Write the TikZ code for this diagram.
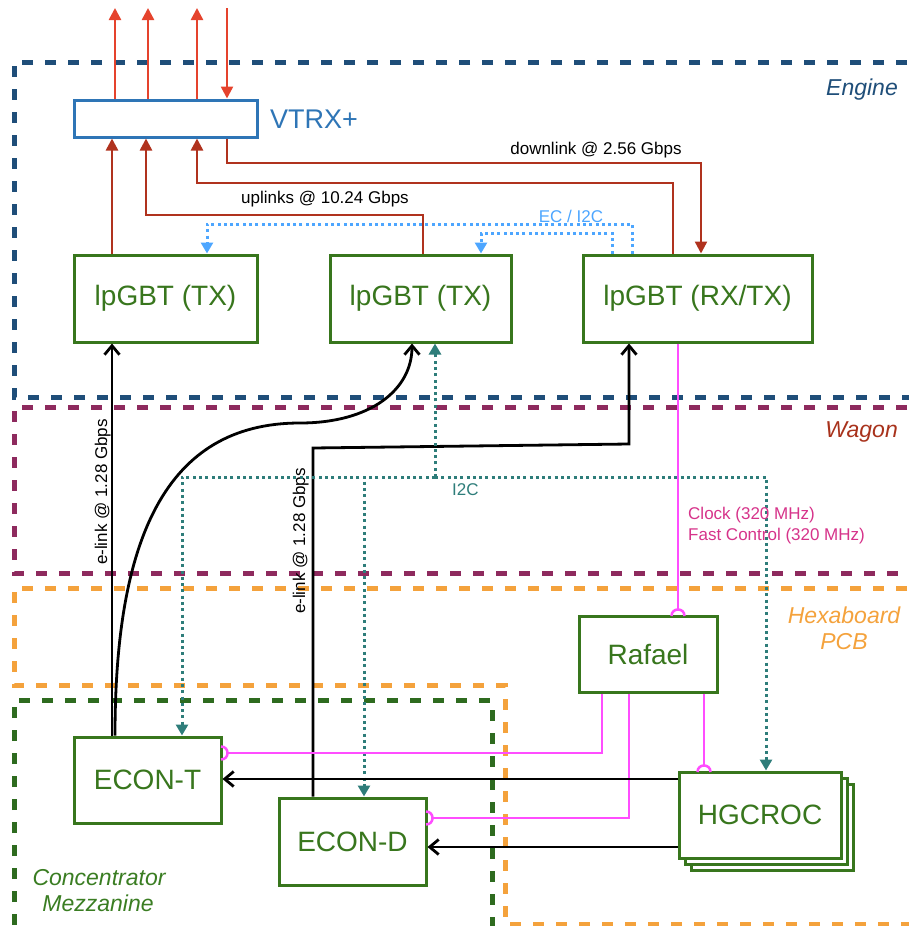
\documentclass[tikz,border=0pt]{standalone}
\usepackage{fontspec}
\setmainfont{Liberation Sans}
\usetikzlibrary{arrows.meta}
\definecolor{engblue}{HTML}{1F4E79}
\definecolor{wagmar}{HTML}{8E2A5E}
\definecolor{wagred}{HTML}{A8321C}
\definecolor{hexor}{HTML}{F4A23C}
\definecolor{concg}{HTML}{2E6B1F}
\definecolor{conctxt}{HTML}{3A7D22}
\definecolor{boxg}{HTML}{38761D}
\definecolor{vblue}{HTML}{2E75B6}
\definecolor{redA}{HTML}{E5432D}
\definecolor{redB}{HTML}{B0321E}
\definecolor{ecblue}{HTML}{4DA6FF}
\definecolor{i2cteal}{HTML}{2E7D7A}
\definecolor{mag}{HTML}{FF4DFF}
\definecolor{magtxt}{HTML}{D6338A}
\begin{document}
\begin{tikzpicture}[x=1pt,y=-1pt,
  region/.style={line width=5pt, dash pattern=on 11pt off 12pt},
  box/.style={draw=boxg, fill=white, line width=3pt, inner sep=0pt, text=boxg, font=\fontsize{28}{32}\selectfont},
  lbl/.style={inner sep=0pt, font=\fontsize{17}{20}\selectfont},
  rlbl/.style={inner sep=0pt, font=\fontsize{23}{26}\selectfont\itshape},
  upred/.style={draw=redA, line width=2.5pt, -{Triangle[width=12pt,length=12pt]}},
  linkred/.style={draw=redB, line width=2.5pt, -{Triangle[width=12pt,length=12pt]}},
  elink/.style={draw=black, line width=2.8pt, -{Straight Barb[length=9pt,width=15pt]}},
  ecdot/.style={draw=ecblue, line width=3pt, dash pattern=on 3pt off 3.3pt, -{Triangle[width=12pt,length=11pt]}},
  i2cdot/.style={draw=i2cteal, line width=3pt, dash pattern=on 3pt off 3.3pt, -{Triangle[width=12pt,length=11pt]}},
  magl/.style={draw=mag, line width=2.5pt},
]
\useasboundingbox (0,0) rectangle (909,926);
\clip (0,0) rectangle (909,926);

% columns and rows
\foreach \v in {112,115,146,148,182,197,207,227,313,364,412,423,435,481,602,612,629,632,673,678,701,704,766}
  \coordinate (x\v) at (\v,0);
\coordinate (r779) at (0,779);
\coordinate (r847) at (0,847);

% regions
\draw[region, engblue] (930,62) -- (14,62) -- (14,397) -- (930,397);
\draw[region, wagmar] (930,407) -- (14,407) -- (14,573) -- (930,573);
\draw[region, hexor] (930,588) -- (14,588) -- (14,685) -- (505,685) -- (505,924) -- (930,924);
\draw[region, concg] (14,925) -- (14,700) -- (492,700) -- (492,930);

% region labels
\node[rlbl, text=engblue, anchor=base east] (englbl) at (898,95) {Engine};
\node[rlbl, text=wagred, anchor=base east] (waglbl) at (898,437) {Wagon};
\node[rlbl, text=hexor, anchor=base] (hexlbl1) at (844,623) {Hexaboard};
\node[rlbl, text=hexor, anchor=base] (hexlbl2) at (844,649) {PCB};
\node[rlbl, text=conctxt, anchor=base] (conclbl1) at (99,885) {Concentrator};
\node[rlbl, text=conctxt, anchor=base] (conclbl2) at (98,911) {Mezzanine};

% boxes
\node[box, draw=vblue, minimum width=183pt, minimum height=37pt] (vtrx) at (165.5,118.5) {};
\node[inner sep=0pt, text=vblue, font=\fontsize{27}{30}\selectfont, anchor=base west] (vtrxlbl) at (270,128) {VTRX+};
\node[box, minimum width=183pt, minimum height=87pt] (lp1) at (165.5,298.5) {lpGBT (TX)};
\node[box, minimum width=181pt, minimum height=87pt] (lp2) at (420.5,298.5) {lpGBT (TX)};
\node[box, minimum width=229pt, minimum height=87pt] (lp3) at (697.5,298.5) {lpGBT (RX/TX)};
\node[box, minimum width=138pt, minimum height=76pt] (rafael) at (648,654) {Rafael};
\node[box, minimum width=147pt, minimum height=86pt] (econt) at (147.5,780) {ECON-T};
\node[box, minimum width=147pt, minimum height=87pt] (econd) at (352.5,841.5) {ECON-D};
\node[box, minimum width=162pt, minimum height=86pt] (hg3) at (772,827) {};
\node[box, minimum width=162pt, minimum height=86pt] (hg2) at (766,821) {};
\node[box, minimum width=162pt, minimum height=86pt] (hgcroc) at (760,815) {HGCROC};

% free ends above VTRX+
\coordinate (top1) at (115,8);
\coordinate (top2) at (148,8);
\coordinate (top3) at (197,8);
\coordinate (top4) at (227,8);
\draw[upred] (x115 |- vtrx.north) -- (top1);
\draw[upred] (x148 |- vtrx.north) -- (top2);
\draw[upred] (x197 |- vtrx.north) -- (top3);
\draw[upred] (top4) -- (x227 |- vtrx.north);

% uplinks / downlink
\draw[linkred] (x112 |- lp1.north) -- (x112 |- vtrx.south);
\draw[linkred] (x423 |- lp2.north) -- (423,215) -- (146,215) -- (x146 |- vtrx.south);
\draw[linkred] (x673 |- lp3.north) -- (673,183) -- (197,183) -- (x197 |- vtrx.south);
\draw[linkred] (x227 |- vtrx.south) -- (227,163) -- (701,163) -- (x701 |- lp3.north);
\node[lbl, anchor=base] (uplbl) at (325,203) {uplinks @ 10.24 Gbps};
\node[lbl, anchor=base] (dnlbl) at (596,154) {downlink @ 2.56 Gbps};

% EC / I2C
\draw[ecdot] (x632 |- lp3.north) -- (632,224) -- (207,224) -- (x207 |- lp1.north);
\draw[ecdot] (x612 |- lp3.north) -- (612,233) -- (481,233) -- (x481 |- lp2.north);
\node[lbl, text=ecblue, anchor=base] (eclbl) at (571,222) {EC / I2C};

% e-links
\draw[elink] (x112 |- econt.north) -- (x112 |- lp1.south);
\draw[elink] (x115 |- econt.north) .. controls (115,540) and (165,423) .. (300,423)
  .. controls (370,423) and (412,390) .. (x412 |- lp2.south);
\draw[elink] (x313 |- econd.north) -- (313,448) -- (629,444) -- (x629 |- lp3.south);
\node[lbl, rotate=90, anchor=base] (el1lbl) at (107,492) {e-link @ 1.28 Gbps};
\node[lbl, rotate=90, anchor=base] (el2lbl) at (305,541) {e-link @ 1.28 Gbps};

% I2C tree
\coordinate (i2cJ) at (435,477);
\draw[i2cdot] (i2cJ) -- (x435 |- lp2.south);
\draw[i2cdot] (i2cJ) -- (182,477) -- (x182 |- econt.north);
\draw[i2cdot] (i2cJ) -- (364,477) -- (x364 |- econd.north);
\draw[i2cdot] (i2cJ) -- (766,477) -- (x766 |- hgcroc.north);
\node[lbl, text=i2cteal, anchor=base west] (i2clbl) at (452,495) {I2C};

% clock / fast control
\draw[magl] (x678 |- lp3.south) -- (678,609.5);
\draw[magl] (671.5,616) .. controls (671.5,607.3) and (684.5,607.3) .. (684.5,616);
\node[lbl, text=magtxt, anchor=base west] (clklbl) at (688,519) {Clock (320 MHz)};
\node[lbl, text=magtxt, anchor=base west] (fclbl) at (688,540) {Fast Control (320 MHz)};
\draw[magl] (x602 |- rafael.south) -- (602,753) -- (227.5,753);
\draw[magl] (221,746.5) .. controls (229.7,746.5) and (229.7,759.5) .. (221,759.5);
\draw[magl] (x629 |- rafael.south) -- (629,818) -- (432.5,818);
\draw[magl] (426,811.5) .. controls (434.7,811.5) and (434.7,824.5) .. (426,824.5);
\draw[magl] (x704 |- rafael.south) -- (704,765.5);
\draw[magl] (697.5,772) .. controls (697.5,763.3) and (710.5,763.3) .. (710.5,772);

% data HGCROC -> ECON
\draw[elink] (hgcroc.west |- r779) -- (econt.east |- r779);
\draw[elink] (hgcroc.west |- r847) -- (econd.east |- r847);
\end{tikzpicture}
\end{document}
